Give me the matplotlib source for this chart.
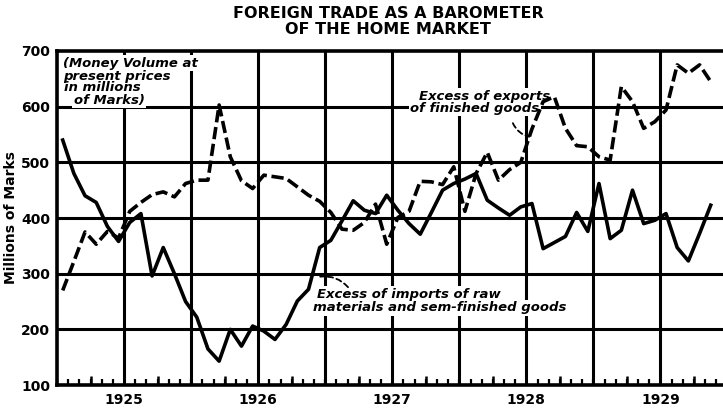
import numpy as np
import matplotlib
matplotlib.use("Agg")
import matplotlib.pyplot as plt

plt.rcParams['font.family'] = ['Liberation Sans Narrow', 'DejaVu Sans']

# monthly values, Jan 1925 .. Nov 1929, millions of Marks
imports_raw = [540, 480, 440, 428, 385, 358, 392, 408, 296, 347, 300, 250,
               222, 165, 143, 200, 170, 206, 197, 182, 209, 251, 272, 347,
               360, 395, 431, 414, 408, 441, 414, 390, 371, 410, 450, 462,
               470, 480, 432, 418, 405, 420, 426, 345, 356, 367, 410, 376,
               462, 363, 378, 450, 390, 396, 408, 347, 323, 372, 423]
exports_finished = [270, 322, 375, 353, 376, 364, 412, 428, 442, 447, 438, 462,
                    468, 468, 603, 510, 467, 453, 477, 474, 471, 456, 441, 430,
                    410, 380, 378, 392, 425, 353, 401, 412, 466, 465, 460, 492,
                    412, 480, 518, 468, 487, 500, 560, 609, 618, 561, 530, 528,
                    510, 504, 636, 609, 561, 573, 594, 675, 660, 675, 645]
years = ['1925', '1926', '1927', '1928', '1929']
y_ticks = [100, 200, 300, 400, 500, 600, 700]
note_lines = ['(Money Volume at', 'present prices', 'in millions', 'of Marks)']

months = np.arange(len(imports_raw)) + 0.5

fig = plt.figure(figsize=(7.23, 4.11), dpi=100)
ax = fig.add_axes([0.079, 0.063, 0.921, 0.813])
ax.set_xlim(0, 59.6)
ax.set_ylim(100, 700)

# heavy grid: half-year verticals, 100-mark horizontals
for v in range(200, 700, 100):
    ax.axhline(v, color='black', lw=2.2, zorder=1)
for m in range(6, 60, 6):
    ax.axvline(m, color='black', lw=2.2, zorder=1)

for side in ['left', 'bottom', 'top']:
    ax.spines[side].set_linewidth(2.6)
ax.spines['right'].set_visible(False)

ax.plot(months, imports_raw, color='black', lw=2.6, solid_joinstyle='round',
        zorder=4)
ax.plot(months, exports_finished, color='black', lw=2.6, dashes=(3.4, 1.3),
        zorder=4)

# month ticks, taller ones at the quarters
ax.set_xticks(np.arange(0, 60, 1), minor=True)
ax.set_xticks(np.arange(6, 60, 12))
ax.set_xticklabels(years, fontsize=10, fontweight='bold')
ax.tick_params(axis='x', which='minor', direction='in', length=4, width=1.6,
               top=False)
ax.tick_params(axis='x', which='major', length=0, pad=6)
ax.vlines(np.arange(3, 60, 6), 0, 0.028, transform=ax.get_xaxis_transform(),
          color='black', lw=1.8, zorder=2)

ax.set_yticks(y_ticks)
ax.set_yticklabels([str(v) for v in y_ticks], fontsize=10, fontweight='bold')
ax.tick_params(axis='y', length=0, pad=5)
ax.set_ylabel('Millions of Marks', fontsize=10, fontweight='bold', labelpad=2)

fig.text(0.537, 0.985, 'FOREIGN TRADE AS A BAROMETER\nOF THE HOME MARKET',
         ha='center', va='top', fontsize=11.5, fontweight='bold',
         linespacing=1.1)


def label(x, y, s):
    # white patch behind the words first, then the words on top of it
    kw = dict(fontsize=9.5, style='italic', fontweight='bold', va='center',
              ha='left')
    ax.text(x, y, s, color='white', zorder=3,
            bbox=dict(facecolor='white', edgecolor='none', pad=1), **kw)
    ax.text(x, y, s, color='black', zorder=3.5, **kw)


for line, yv, xm in zip(note_lines, [678, 655, 634, 611], [0.5, 0.5, 0.6, 1.5]):
    label(xm, yv, line)

label(32.4, 619, 'Excess of exports')
label(31.6, 597, 'of finished goods')
ax.annotate('', xy=(42.5, 545), xytext=(40.7, 575),
            arrowprops=dict(arrowstyle='-', ls=(0, (3, 2)), lw=1.3,
                            connectionstyle='arc3,rad=0.3'), zorder=3)

label(23.3, 263, 'Excess of imports of raw')
label(22.9, 239, 'materials and sem-finished goods')
ax.annotate('', xy=(23.3, 294), xytext=(26.2, 272),
            arrowprops=dict(arrowstyle='-', ls=(0, (3, 2)), lw=1.3,
                            connectionstyle='arc3,rad=0.3'), zorder=3)

fig.savefig('out.png', dpi=100)
